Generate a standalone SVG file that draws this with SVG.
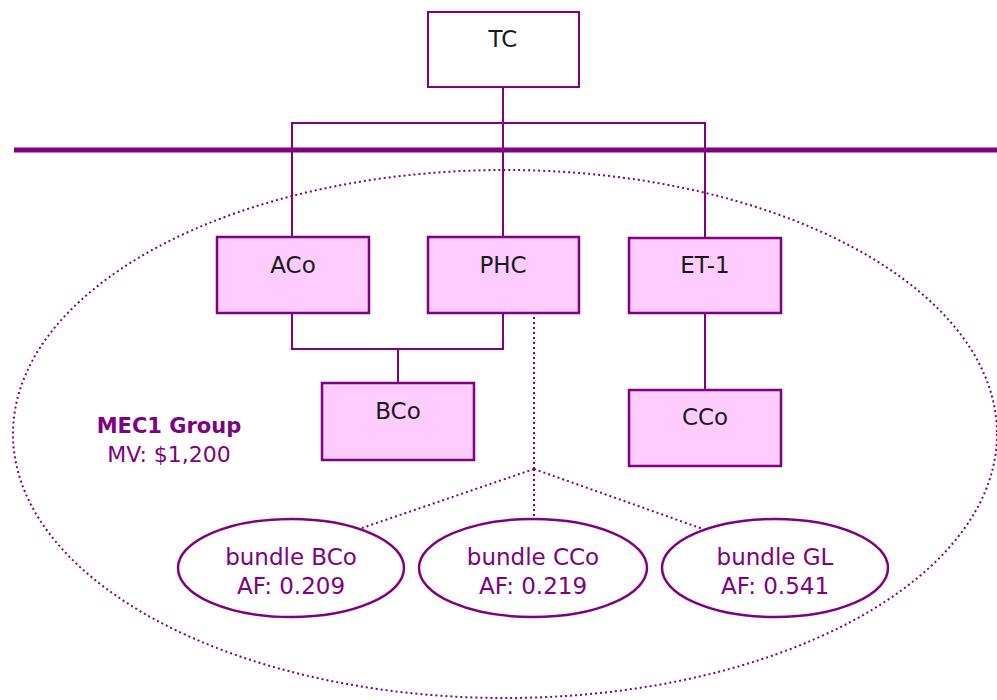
<svg xmlns="http://www.w3.org/2000/svg" width="997" height="700" viewBox="0 0 997 700">
<style>
.box{fill:#ffccff;stroke:#800080;stroke-width:2.5}
.tc{fill:#fff;stroke:#800080;stroke-width:2}
.lbl{font-family:"DejaVu Sans","Liberation Sans",sans-serif;font-size:23px;fill:#1a1a1a;text-anchor:middle}
.plbl{font-family:"DejaVu Sans","Liberation Sans",sans-serif;font-size:23px;fill:#800080;text-anchor:middle}
.conn{fill:none;stroke:#800080;stroke-width:2}
.dot{fill:none;stroke:#800080;stroke-width:2;stroke-dasharray:2 3}
.bund{fill:#fff;stroke:#800080;stroke-width:2.5}
</style>
<rect width="997" height="700" fill="#fff"/>
<ellipse id="group-boundary" cx="505" cy="434" rx="492" ry="264" fill="none" stroke="#800080" stroke-width="2" stroke-dasharray="2 3"/>
<line x1="14" y1="150" x2="997" y2="150" stroke="#800080" stroke-width="5"/>
<g id="connectors">
<path class="conn" d="M503 87 V237"/>
<path class="conn" d="M292 237 V123 H705 V238"/>
<path class="conn" d="M292 313 V349 H503 V313"/>
<path class="conn" d="M398 349 V383"/>
<path class="conn" d="M705 313 V390"/>
<path class="dot" d="M534 317 V469"/>
<path class="dot" d="M534 469 L362 528"/>
<path class="dot" d="M534 469 V519"/>
<path class="dot" d="M534 469 L703 529"/>
</g>
<g id="TC"><rect class="tc" x="428" y="12" width="151" height="75"/><text class="lbl" x="503" y="47">TC</text></g>
<g id="ACo"><rect class="box" x="217" y="237" width="152" height="76"/><text class="lbl" x="293" y="273">ACo</text></g>
<g id="PHC"><rect class="box" x="428" y="237" width="151" height="76"/><text class="lbl" x="503" y="273">PHC</text></g>
<g id="ET-1"><rect class="box" x="629" y="238" width="152" height="75"/><text class="lbl" x="705" y="273">ET-1</text></g>
<g id="BCo"><rect class="box" x="322" y="383" width="152" height="77"/><text class="lbl" x="398" y="419">BCo</text></g>
<g id="CCo"><rect class="box" x="629" y="390" width="152" height="76"/><text class="lbl" x="705" y="425">CCo</text></g>
<g id="MEC1-label">
<text class="plbl" x="169" y="433" style="font-weight:bold;font-size:21px">MEC1 Group</text>
<text class="plbl" x="169" y="462" style="font-size:22px">MV: $1,200</text>
</g>
<g id="bundle-BCo"><ellipse class="bund" cx="291" cy="568" rx="113" ry="49"/><text class="plbl" x="291" y="565">bundle BCo</text><text class="plbl" x="291" y="594">AF: 0.209</text></g>
<g id="bundle-CCo"><ellipse class="bund" cx="533" cy="568" rx="114" ry="49"/><text class="plbl" x="533" y="565">bundle CCo</text><text class="plbl" x="533" y="594">AF: 0.219</text></g>
<g id="bundle-GL"><ellipse class="bund" cx="775" cy="568" rx="113" ry="49"/><text class="plbl" x="775" y="565">bundle GL</text><text class="plbl" x="775" y="594">AF: 0.541</text></g>
</svg>
